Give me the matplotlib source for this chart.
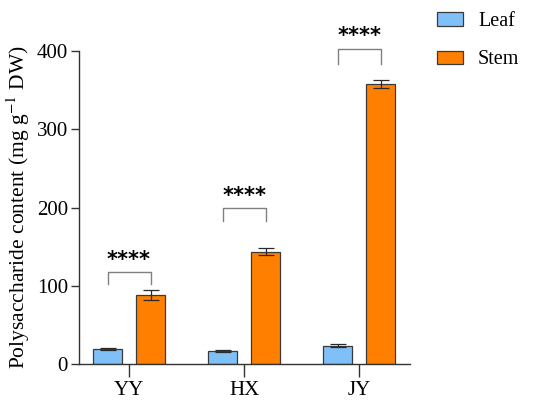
import numpy as np
import matplotlib
matplotlib.use('Agg')
import matplotlib.pyplot as plt

plt.rcParams['font.family'] = ['Liberation Serif', 'DejaVu Serif']
plt.rcParams['mathtext.fontset'] = 'stix'

### DATA ###

sites = ['YY', 'HX', 'JY']
leaf = [19.6, 17.0, 23.5]
leaf_err = [1.0, 1.0, 2.0]
stem = [88.6, 144.0, 358.0]
stem_err = [6.0, 5.0, 5.0]
sig_labels = ['****', '****', '****']
bracket_top = [118.0, 199.0, 403.0]     # bracket height per group
bracket_leg = [102.5, 183.5, 384.0]     # where bracket legs end

### PLOT ###

fig = plt.figure(figsize=(5.5, 4.05), dpi=100)
ax = fig.add_axes([0.1436, 0.1005, 0.6014, 0.7735])

x = np.arange(len(sites))
off = 0.187
w = 0.25

ax.bar(x - off, leaf, w, color='#80c0f8', edgecolor='#3a3a3a', linewidth=0.9,
       label='Leaf', zorder=2)
ax.bar(x + off, stem, w, color='#ff8000', edgecolor='#3a3a3a', linewidth=0.9,
       label='Stem', zorder=2)
ax.errorbar(x - off, leaf, yerr=leaf_err, fmt='none', ecolor='#2a2a2a',
            elinewidth=0.9, capsize=6, capthick=0.9, zorder=3)
ax.errorbar(x + off, stem, yerr=stem_err, fmt='none', ecolor='#2a2a2a',
            elinewidth=0.9, capsize=6, capthick=0.9, zorder=3)

# significance brackets
for i in range(len(sites)):
    x0, x1 = x[i] - off, x[i] + off
    ax.plot([x0, x0, x1, x1], [bracket_leg[i], bracket_top[i], bracket_top[i], bracket_leg[i]],
            color='#808080', lw=1.0, clip_on=False)
    ax.text(x[i], bracket_top[i] + 3, sig_labels[i], ha='center', va='bottom',
            fontsize=15, fontweight='bold', family='DejaVu Sans', clip_on=False)

ax.set_xlim(-0.435, 2.44)
ax.set_ylim(0, 400)
ax.set_yticks([0, 100, 200, 300, 400])
ax.set_xticks(x)
ax.set_xticklabels(sites)
ax.set_ylabel('Polysaccharide content (mg g$^{-1}$ DW)', fontsize=15.5, labelpad=3)

for s in ['top', 'right']:
    ax.spines[s].set_visible(False)
for s in ['left', 'bottom']:
    ax.spines[s].set_linewidth(1.0)
    ax.spines[s].set_color('#333333')
ax.tick_params(axis='y', length=6, width=1.0, labelsize=15, colors='#333333',
               labelcolor='black', pad=2)
ax.tick_params(axis='x', length=9, width=1.0, labelsize=15, colors='#333333',
               labelcolor='black', pad=3)

ax.legend(loc='upper left', bbox_to_anchor=(1.057, 1.15), frameon=False,
          fontsize=14.5, handlelength=1.3, handleheight=0.62, handletextpad=0.75,
          labelspacing=0.95, borderaxespad=0)

fig.savefig('out.png', dpi=100)
